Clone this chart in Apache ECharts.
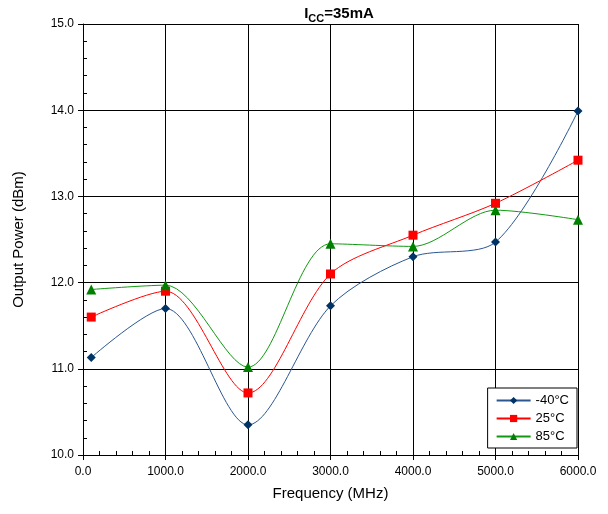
<!DOCTYPE html>
<html><head><meta charset="utf-8">
<script src="https://cdn.jsdelivr.net/npm/echarts@6/dist/echarts.min.js"></script>
<style>html,body{margin:0;padding:0;background:#fff}#c{width:608px;height:514px}</style>
</head><body><div id="c"></div>
<script>
const freqs = [100, 1000, 2000, 3000, 4000, 5000, 6000];
const seriesNames = ['-40°C', '25°C', '85°C'];
const valsM40 = [11.13, 11.70, 10.35, 11.73, 12.30, 12.47, 13.99];
const vals25 = [11.60, 11.90, 10.72, 12.10, 12.55, 12.92, 13.42];
const vals85 = [11.92, 11.97, 11.02, 12.45, 12.42, 12.84, 12.73];
const xTicks = [0, 1000, 2000, 3000, 4000, 5000, 6000];
const yTicks = [10, 11, 12, 13, 14, 15];

const font = 'Liberation Sans, Arial, sans-serif';
const pair = v => freqs.map((f, i) => [f, v[i]]);
const chart = echarts.init(document.getElementById('c'));
const grid = {left: 83, right: 30, top: 24, bottom: 59};
chart.setOption({
  animation: false,
  backgroundColor: '#fff',
  title: {
    text: '{b|I}{s|CC}{b|=35mA}',
    left: 334, top: 1, textAlign: 'center',
    textStyle: {rich: {
      b: {fontFamily: font, fontWeight: 'bold', fontSize: 15, color: '#000', verticalAlign: 'bottom'},
      s: {fontFamily: font, fontWeight: 'bold', fontSize: 11, color: '#000', verticalAlign: 'bottom', padding: [0,0,-3,0]}
    }}
  },
  grid: grid,
  legend: {
    right: 31, bottom: 66, orient: 'vertical',
    backgroundColor: '#fff', borderColor: '#000', borderWidth: 1,
    padding: [6, 8, 5, 8], itemGap: 5, itemWidth: 34, itemHeight: 9,
    textStyle: {fontFamily: font, fontSize: 13, color: '#000'},
    data: seriesNames
  },
  xAxis: [{
    type: 'value', min: 0, max: 6000, interval: 1000,
    name: 'Frequency (MHz)', nameLocation: 'middle', nameGap: 31,
    nameTextStyle: {fontFamily: font, fontSize: 15, color: '#000'},
    axisLine: {onZero: false, lineStyle: {color: '#000', width: 1}},
    axisTick: {show: true, inside: false, length: 5, lineStyle: {color: '#000'}},
    axisLabel: {fontFamily: font, fontSize: 12, color: '#000', margin: 11, formatter: v => v.toFixed(1)},
    splitLine: {show: true, lineStyle: {color: '#000', width: 1}}
  }, {
    type: 'value', min: 0, max: 6000, interval: 200, position: 'bottom',
    axisLine: {show: false}, axisLabel: {show: false}, splitLine: {show: false},
    axisTick: {show: true, inside: true, length: 4, lineStyle: {color: '#000'}}
  }],
  yAxis: [{
    type: 'value', min: 10, max: 15, interval: 1,
    name: 'Output Power (dBm)', nameLocation: 'middle', nameGap: 57,
    nameTextStyle: {fontFamily: font, fontSize: 15, color: '#000'},
    axisLine: {show: true, onZero: false, lineStyle: {color: '#000', width: 1}},
    axisTick: {show: true, inside: false, length: 5, lineStyle: {color: '#000'}},
    axisLabel: {fontFamily: font, fontSize: 12, color: '#000', margin: 9, formatter: v => v.toFixed(1)},
    splitLine: {show: true, lineStyle: {color: '#000', width: 1}}
  }, {
    type: 'value', min: 10, max: 15, interval: 0.2, position: 'left',
    axisLine: {show: false}, axisLabel: {show: false}, splitLine: {show: false},
    axisTick: {show: true, inside: true, length: 4, lineStyle: {color: '#000'}}
  }],
  series: [
    {name: seriesNames[0], type: 'line', data: pair(valsM40), smooth: 0.3,
     symbol: 'diamond', symbolSize: 9, itemStyle: {color: '#003366'},
     lineStyle: {color: '#2B5790', width: 1}},
    {name: seriesNames[1], type: 'line', data: pair(vals25), smooth: 0.3,
     symbol: 'rect', symbolSize: 9, itemStyle: {color: '#FF0000'},
     lineStyle: {color: '#FF0000', width: 1}},
    {name: seriesNames[2], type: 'line', data: pair(vals85), smooth: 0.3,
     symbol: 'triangle', symbolSize: 10, itemStyle: {color: '#008000'},
     lineStyle: {color: '#119911', width: 1}}
  ]
});
</script></body></html>
